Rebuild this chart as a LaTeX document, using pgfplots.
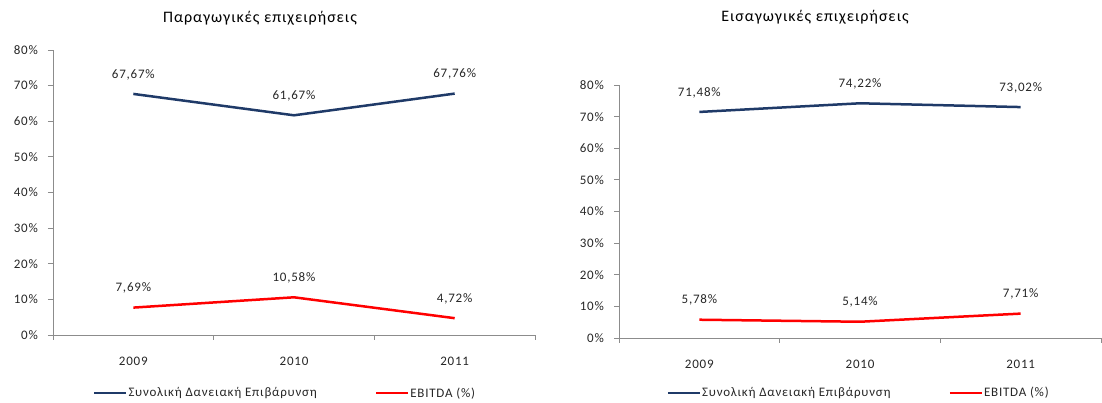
\documentclass[border=0pt]{standalone}
\usepackage{fontspec}
\setmainfont{Carlito}[LetterSpace=6]
\usepackage{pgfplots}
\pgfplotsset{compat=1.18}

\definecolor{navy}{HTML}{1F3A68}
\definecolor{exred}{HTML}{FF0000}
\definecolor{axgray}{HTML}{8C8C8C}
\definecolor{txt}{HTML}{262626}

\pgfplotsset{
  panel/.style={
    scale only axis, anchor=south west,
    width=482pt,
    xmin=-0.5, xmax=2.5, ymin=0, ymax=80,
    axis x line=bottom, axis y line=left,
    axis line style={-, axgray, line width=0.9pt},
    xtick={0,1,2}, xticklabels={2009,2010,2011},
    minor xtick={-0.5,0.5,1.5,2.5},
    ytick={0,10,...,80},
    tick align=outside,
    major x tick style={draw=none},
    minor x tick style={axgray, line width=0.9pt},
    minor tick length=5pt,
    major tick length=5pt,
    y tick style={axgray, line width=0.9pt},
    yticklabel={\pgfmathprintnumber{\tick}\%},
    /pgf/number format/assume math mode=true,
    tick label style={font=\fontsize{13}{15}\selectfont, text=txt},
    xticklabel style={inner sep=0pt, anchor=north, yshift=-17pt},
    yticklabel style={inner sep=0pt, anchor=east, xshift=-10pt},
    clip=false,
    nodes near coords={\pgfmathprintnumber[fixed,fixed zerofill,precision=2,use comma]{\pgfplotspointmeta}\%},
    every node near coord/.append style={font=\fontsize{13}{15}\selectfont, text=txt,
      inner sep=0pt, anchor=south, yshift=13pt},
    legend columns=2,
    legend image code/.code={\draw[#1, line width=2.5pt] (0pt,0pt) -- (32pt,0pt);},
    legend style={draw=none, fill=none, inner sep=0pt, outer sep=0pt,
      font=\fontsize{13}{15}\selectfont, text=txt,
      nodes={inner sep=1pt},
      /tikz/every even column/.append style={column sep=57pt}},
  },
  blueline/.style={navy, line width=2.5pt, mark=none},
  redline/.style={exred, line width=2.5pt, mark=none},
}

\begin{document}
\begin{tikzpicture}
\path[use as bounding box] (0,0) rectangle (1102pt,403pt);

% Left panel
\node[font=\fontsize{16}{18}\selectfont, text=black] at (260pt,385pt) {Παραγωγικές επιχειρήσεις};
\begin{axis}[panel, at={(53pt,68pt)}, height=285pt,
  legend style={at={(axis description cs:0.083,-0.2035)}, anchor=west}]
\addplot[blueline] coordinates {(0,67.67) (1,61.67) (2,67.76)};
\addplot[redline] coordinates {(0,7.69) (1,10.58) (2,4.72)};
\legend{Συνολική Δανειακή Επιβάρυνση, EBITDA (\%)}
\end{axis}

% Right panel
\node[font=\fontsize{16}{18}\selectfont, text=black] at (815pt,386pt) {Εισαγωγικές επιχειρήσεις};
\begin{axis}[panel, at={(619pt,65pt)}, height=253pt,
  legend style={at={(axis description cs:0.099,-0.217)}, anchor=west}]
\addplot[blueline] coordinates {(0,71.48) (1,74.22) (2,73.02)};
\addplot[redline] coordinates {(0,5.78) (1,5.14) (2,7.71)};
\legend{Συνολική Δανειακή Επιβάρυνση, EBITDA (\%)}
\end{axis}
\end{tikzpicture}
\end{document}
